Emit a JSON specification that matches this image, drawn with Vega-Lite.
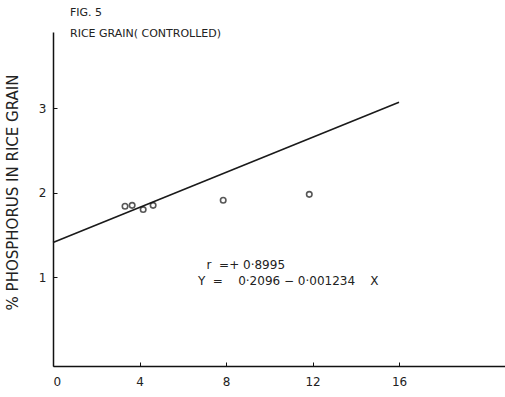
{
  "$schema": "https://vega.github.io/schema/vega-lite/v6.json",
  "width": 452,
  "height": 334,
  "autosize": "none",
  "padding": {"left": 53, "top": 32, "right": 0, "bottom": 31},
  "background": "white",
  "config": {
    "view": {"stroke": null},
    "font": "DejaVu Sans",
    "axis": {"grid": false, "domainColor": "#111", "domainWidth": 1.5, "tickColor": "#111", "labelColor": "#222", "labelFont": "DejaVu Sans", "labelFontSize": 12, "titleColor": "#222"}
  },
  "title": {"text": "FIG. 5", "subtitle": "RICE GRAIN( CONTROLLED)", "anchor": "start", "frame": "group", "dx": 17, "offset": -7, "fontSize": 11, "fontWeight": "normal", "color": "#222", "subtitleFontSize": 11, "subtitleColor": "#222", "subtitlePadding": 10, "font": "DejaVu Sans", "subtitleFont": "DejaVu Sans"},
  "datasets": {
    "points": [
      {"x": 3.33, "y": 1.84},
      {"x": 3.66, "y": 1.85},
      {"x": 4.17, "y": 1.80},
      {"x": 4.63, "y": 1.85},
      {"x": 7.87, "y": 1.91},
      {"x": 11.85, "y": 1.98}
    ],
    "fit": [
      {"x": 0, "y": 1.41},
      {"x": 16, "y": 3.07}
    ],
    "notes": [
      {"x": 7.1, "y": 1.15, "label": "r\u00a0\u00a0=+\u00a00·8995"},
      {"x": 6.7, "y": 0.96, "label": "Y\u00a0\u00a0=\u00a0\u00a0\u00a0\u00a00·2096\u00a0−\u00a00·001234\u00a0\u00a0\u00a0\u00a0X"}
    ]
  },
  "layer": [
    {
      "data": {"name": "fit"},
      "mark": {"type": "line", "color": "#1a1a1a", "strokeWidth": 1.6},
      "encoding": {
        "x": {"field": "x", "type": "quantitative", "scale": {"domain": [0, 20.9], "nice": false, "zero": false},
          "axis": {"values": [0, 4, 8, 12, 16], "format": "d", "title": null, "tickSize": -4, "labelPadding": 14}},
        "y": {"field": "y", "type": "quantitative", "scale": {"domain": [-0.05, 3.9], "nice": false, "zero": false},
          "axis": {"values": [1, 2, 3], "format": "d", "title": "% PHOSPHORUS IN RICE GRAIN", "titleFontSize": 15, "titleFontWeight": "normal", "titleX": -33, "titleY": 160, "tickSize": -4, "labelPadding": 11, "labelAngle": 0}}
      }
    },
    {
      "data": {"name": "points"},
      "mark": {"type": "point", "shape": "circle", "filled": false, "stroke": "#111", "strokeWidth": 1.6, "size": 30},
      "encoding": {
        "x": {"field": "x", "type": "quantitative"},
        "y": {"field": "y", "type": "quantitative"}
      }
    },
    {
      "data": {"name": "notes"},
      "mark": {"type": "text", "align": "left", "baseline": "middle", "fontSize": 12, "color": "#222", "font": "DejaVu Sans"},
      "encoding": {
        "x": {"field": "x", "type": "quantitative"},
        "y": {"field": "y", "type": "quantitative"},
        "text": {"field": "label", "type": "nominal"}
      }
    }
  ]
}
